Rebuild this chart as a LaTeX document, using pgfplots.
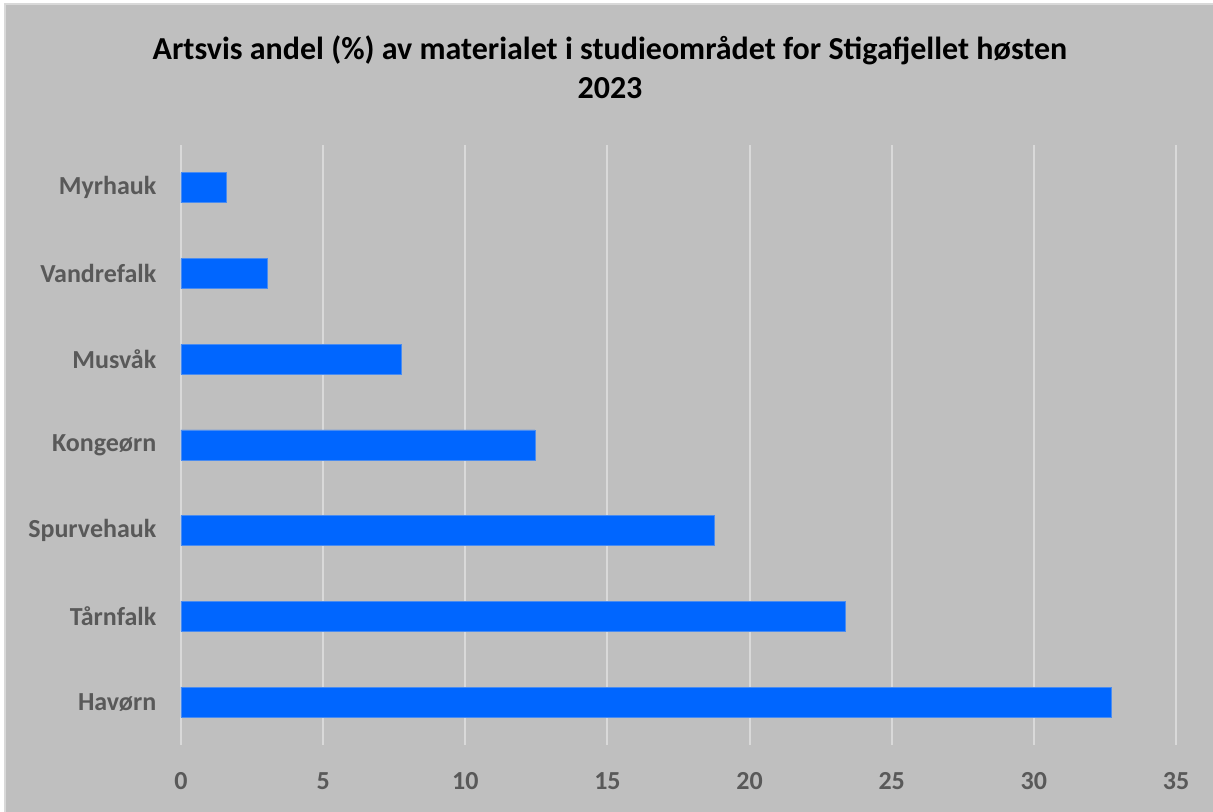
\documentclass[border=0pt]{standalone}
\usepackage{pgfplots}
\pgfplotsset{compat=1.18}
\usepackage{fontspec}
\setmainfont{Carlito}
\definecolor{bg}{HTML}{BFBFBF}
\definecolor{frame}{HTML}{D9D9D9}
\definecolor{gridc}{HTML}{D9D9D9}
\definecolor{barblue}{HTML}{0066FF}
\definecolor{baredge}{HTML}{4A8CF0}
\definecolor{txt}{HTML}{595959}
\begin{document}
\begin{tikzpicture}
\fill[white] (-135.75pt,-50.25pt) rectangle (774pt,558.75pt);
\fill[frame] (-131.25pt-1.5pt,-50.25pt) rectangle (774pt,555pt+1.5pt);
\fill[bg] (-131.25pt,-50.25pt) rectangle (774pt,555pt);
\useasboundingbox (-135.75pt,-50.25pt) rectangle (774pt,558.75pt);
\begin{axis}[
  at={(0pt,0pt)}, anchor=south west,
  scale only axis,
  width=746.25pt, height=450pt,
  xbar, bar width=22.5pt,
  xmin=0, xmax=35,
  ymin=-0.5, ymax=6.5,
  xtick={0,5,...,35},
  ytick={0,...,6},
  yticklabels={Havørn,Tårnfalk,Spurvehauk,Kongeørn,Musvåk,Vandrefalk,Myrhauk},
  axis line style={draw=none},
  major tick length=0pt,
  xmajorgrids,
  major grid style={draw=gridc, line width=1.5pt},
  ticklabel style={font=\fontsize{19.5}{22}\selectfont\bfseries, text=txt},
  /pgf/number format/assume math mode=true,
  xticklabel style={yshift=-17pt},
  yticklabel style={xshift=-15pt},
  clip=false,
]
\addplot[fill=barblue, draw=baredge, line width=0.6pt] coordinates {
 (32.72,0) (23.36,1) (18.75,2) (12.45,3) (7.75,4) (3.05,5) (1.58,6)
};
\end{axis}
\node[align=center, font=\fontsize{24}{29.25}\selectfont\bfseries, text=black] at (321.75pt,508pt)
 {Artsvis andel (\%) av materialet i studieområdet for Stigafjellet høsten\\2023};
\end{tikzpicture}
\end{document}
